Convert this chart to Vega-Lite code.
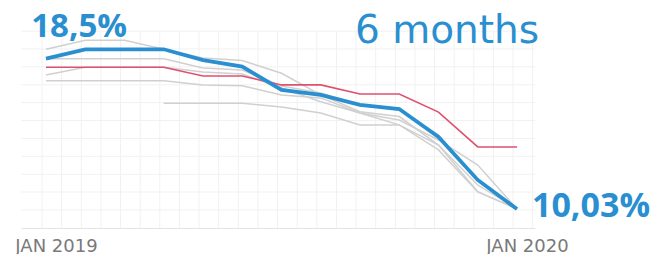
{
  "$schema": "https://vega.github.io/schema/vega-lite/v6.json",
  "width": 514,
  "height": 197,
  "autosize": {"type": "none"},
  "padding": {"left": 21, "top": 31, "right": 121, "bottom": 26},
  "background": "white",
  "config": {"view": {"stroke": null}},
  "datasets": {
    "series": [
      {"s": "G1", "m": 0, "v": 18.5}, {"s": "G1", "m": 1, "v": 18.98}, {"s": "G1", "m": 2, "v": 18.98}, {"s": "G1", "m": 3, "v": 18.5}, {"s": "G1", "m": 4, "v": 18.04}, {"s": "G1", "m": 5, "v": 17.9}, {"s": "G1", "m": 6, "v": 17.23}, {"s": "G1", "m": 7, "v": 16.08}, {"s": "G1", "m": 8, "v": 15.19}, {"s": "G1", "m": 9, "v": 14.93}, {"s": "G1", "m": 10, "v": 13.42}, {"s": "G1", "m": 11, "v": 10.95}, {"s": "G1", "m": 12, "v": 10.03},
      {"s": "G2", "m": 0, "v": 18.0}, {"s": "G2", "m": 1, "v": 18.0}, {"s": "G2", "m": 2, "v": 18.0}, {"s": "G2", "m": 3, "v": 18.0}, {"s": "G2", "m": 4, "v": 17.51}, {"s": "G2", "m": 5, "v": 17.4}, {"s": "G2", "m": 6, "v": 16.55}, {"s": "G2", "m": 7, "v": 16.18}, {"s": "G2", "m": 8, "v": 15.55}, {"s": "G2", "m": 9, "v": 15.28}, {"s": "G2", "m": 10, "v": 13.95}, {"s": "G2", "m": 11, "v": 11.57}, {"s": "G2", "m": 12, "v": 10.03},
      {"s": "G3", "m": 0, "v": 17.14}, {"s": "G3", "m": 1, "v": 17.55}, {"s": "G3", "m": 2, "v": 17.55}, {"s": "G3", "m": 3, "v": 17.55}, {"s": "G3", "m": 4, "v": 17.3}, {"s": "G3", "m": 5, "v": 17.19}, {"s": "G3", "m": 6, "v": 16.45}, {"s": "G3", "m": 7, "v": 15.72}, {"s": "G3", "m": 8, "v": 15.12}, {"s": "G3", "m": 9, "v": 14.75}, {"s": "G3", "m": 10, "v": 13.69}, {"s": "G3", "m": 11, "v": 12.36}, {"s": "G3", "m": 12, "v": 10.03},
      {"s": "G4", "m": 0, "v": 16.83}, {"s": "G4", "m": 1, "v": 16.83}, {"s": "G4", "m": 2, "v": 16.83}, {"s": "G4", "m": 3, "v": 16.83}, {"s": "G4", "m": 4, "v": 16.61}, {"s": "G4", "m": 5, "v": 16.57}, {"s": "G4", "m": 6, "v": 16.08}, {"s": "G4", "m": 7, "v": 15.92}, {"s": "G4", "m": 8, "v": 15.12}, {"s": "G4", "m": 9, "v": 14.49}, {"s": "G4", "m": 10, "v": 13.42}, {"s": "G4", "m": 11, "v": 11.3}, {"s": "G4", "m": 12, "v": 10.03},
      {"s": "G5", "m": 3, "v": 15.64}, {"s": "G5", "m": 4, "v": 15.64}, {"s": "G5", "m": 5, "v": 15.64}, {"s": "G5", "m": 6, "v": 15.44}, {"s": "G5", "m": 7, "v": 15.12}, {"s": "G5", "m": 8, "v": 14.49}, {"s": "G5", "m": 9, "v": 14.49}, {"s": "G5", "m": 10, "v": 13.16}, {"s": "G5", "m": 11, "v": 10.93}, {"s": "G5", "m": 12, "v": 10.03},
      {"s": "red", "m": 0, "v": 17.55}, {"s": "red", "m": 1, "v": 17.55}, {"s": "red", "m": 2, "v": 17.55}, {"s": "red", "m": 3, "v": 17.55}, {"s": "red", "m": 4, "v": 17.08}, {"s": "red", "m": 5, "v": 17.08}, {"s": "red", "m": 6, "v": 16.61}, {"s": "red", "m": 7, "v": 16.61}, {"s": "red", "m": 8, "v": 16.13}, {"s": "red", "m": 9, "v": 16.13}, {"s": "red", "m": 10, "v": 15.17}, {"s": "red", "m": 11, "v": 13.32}, {"s": "red", "m": 12, "v": 13.32},
      {"s": "blue", "m": 0, "v": 18.0}, {"s": "blue", "m": 1, "v": 18.5}, {"s": "blue", "m": 2, "v": 18.5}, {"s": "blue", "m": 3, "v": 18.5}, {"s": "blue", "m": 4, "v": 17.93}, {"s": "blue", "m": 5, "v": 17.58}, {"s": "blue", "m": 6, "v": 16.34}, {"s": "blue", "m": 7, "v": 16.08}, {"s": "blue", "m": 8, "v": 15.55}, {"s": "blue", "m": 9, "v": 15.33}, {"s": "blue", "m": 10, "v": 13.85}, {"s": "blue", "m": 11, "v": 11.57}, {"s": "blue", "m": 12, "v": 10.03}
    ],
    "gridx": [
      {"m": -0.1}, {"m": 0.4}, {"m": 0.9}, {"m": 1.4}, {"m": 1.9}, {"m": 2.4}, {"m": 2.9}, {"m": 3.4}, {"m": 3.9}, {"m": 4.4}, {"m": 4.9}, {"m": 5.4}, {"m": 5.9}, {"m": 6.4}, {"m": 6.9}, {"m": 7.4}, {"m": 7.9}, {"m": 8.4}, {"m": 8.9}, {"m": 9.4}, {"m": 9.9}, {"m": 10.4}, {"m": 10.9}, {"m": 11.4}, {"m": 11.9}, {"m": 12.4}
    ],
    "gridy": [
      {"v": 19.46}, {"v": 18.52}, {"v": 17.57}, {"v": 16.62}, {"v": 15.67}, {"v": 14.72}, {"v": 13.77}, {"v": 12.82}, {"v": 11.87}, {"v": 10.93}, {"v": 9.98}
    ]
  },
  "encoding": {
    "x": {
      "field": "m", "type": "quantitative",
      "scale": {"domain": [-0.637, 12.459], "nice": false, "zero": false},
      "axis": {
        "title": null, "values": [0, 12], "grid": false, "ticks": false,
        "domainColor": "#e3e3e3", "domainWidth": 1,
        "labelExpr": "datum.value == 0 ? 'JAN 2019' : 'JAN 2020'",
        "labelFont": "DejaVu Sans", "labelFontSize": 18, "labelColor": "#7a7a7a",
        "labelPadding": 9, "labelOffset": 10, "labelFlush": false, "labelBound": false, "labelOverlap": false
      }
    },
    "y": {
      "field": "v", "type": "quantitative",
      "scale": {"domain": [9.02, 19.47], "nice": false, "zero": false},
      "axis": null
    }
  },
  "layer": [
    {
      "data": {"name": "gridx"},
      "mark": {"type": "rule", "color": "#f1f1f1", "strokeWidth": 1},
      "encoding": {"y": null}
    },
    {
      "data": {"name": "gridy"},
      "mark": {"type": "rule", "color": "#f1f1f1", "strokeWidth": 1},
      "encoding": {"x": null}
    },
    {
      "data": {"name": "series"},
      "transform": [{"filter": "datum.s != 'red' && datum.s != 'blue'"}],
      "mark": {"type": "line", "color": "#d0d0d0", "strokeWidth": 1.5},
      "encoding": {"detail": {"field": "s"}}
    },
    {
      "data": {"name": "series"},
      "transform": [{"filter": "datum.s == 'red'"}],
      "mark": {"type": "line", "color": "#e0506e", "strokeWidth": 1.6},
      "encoding": {}
    },
    {
      "data": {"name": "series"},
      "transform": [{"filter": "datum.s == 'blue'"}],
      "mark": {"type": "line", "color": "#2a8fd0", "strokeWidth": 3.8},
      "encoding": {}
    },
    {
      "data": {"values": [{"label": "18,5%", "m": 1, "v": 18.5}]},
      "mark": {"type": "text", "align": "left", "baseline": "alphabetic", "dx": -54, "dy": -12, "font": "Open Sans", "fontWeight": "bold", "fontSize": 33, "color": "#2a8fd0"},
      "encoding": {"text": {"field": "label"}}
    },
    {
      "data": {"values": [{"label": "10,03%", "m": 12, "v": 10.03}]},
      "mark": {"type": "text", "align": "left", "baseline": "alphabetic", "dx": 15, "dy": 8, "font": "Open Sans", "fontWeight": "bold", "fontSize": 34, "color": "#2a8fd0"},
      "encoding": {"text": {"field": "label"}}
    },
    {
      "data": {"values": [{"label": "6 months", "m": 8, "v": 18.5}]},
      "mark": {"type": "text", "align": "left", "baseline": "alphabetic", "dx": -5, "dy": -6, "font": "DejaVu Sans", "fontSize": 39, "color": "#2a8fd0"},
      "encoding": {"text": {"field": "label"}}
    }
  ]
}
